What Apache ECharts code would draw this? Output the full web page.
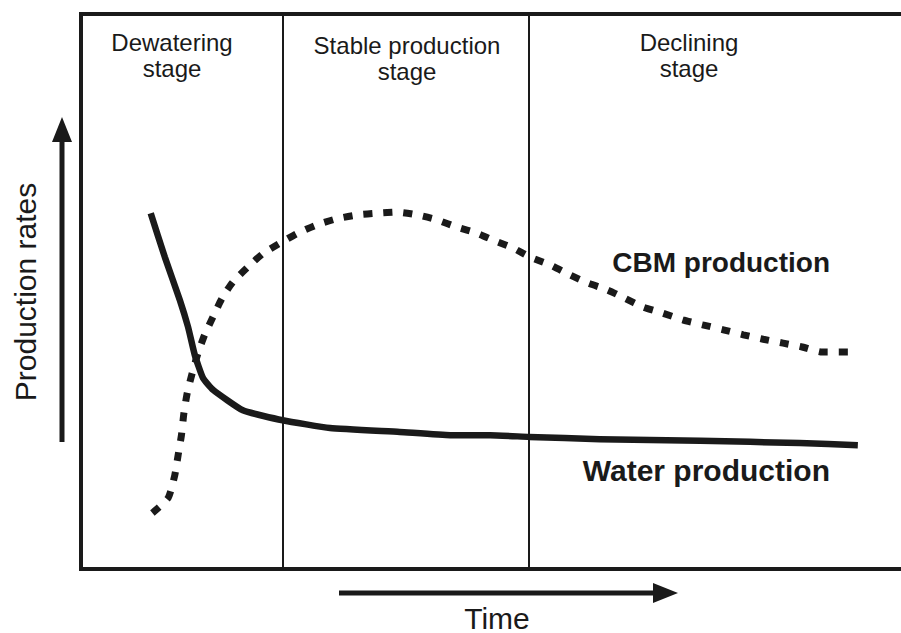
<!DOCTYPE html>
<html>
<head>
<meta charset="utf-8">
<style>
  html, body { margin: 0; padding: 0; background: #ffffff; }
  #chart { width: 901px; height: 633px; }
</style>
<script src="https://cdn.jsdelivr.net/npm/echarts@6/dist/echarts.min.js"></script>
</head>
<body>
<div id="chart"></div>
<script>
// Time axis in arbitrary units, production rate in arbitrary units (0-100)
const timeMax = 98.8;
const stageBoundaries = [24.3, 54.0];
const stageLabels = ['Dewatering\nstage', 'Stable production\nstage', 'Declining\nstage'];

const waterTime = [8.4, 10.1, 11.9, 12.9, 13.7, 14.7, 15.9, 19.5, 24.3, 30.0, 38.4, 44.5, 49.3, 54.0, 62.5, 74.6, 86.6, 93.6];
const waterRate = [64.1, 56.2, 48.5, 43.6, 38.6, 34.4, 32.3, 28.6, 26.8, 25.4, 24.7, 24.1, 24.1, 23.8, 23.4, 23.1, 22.7, 22.3];

const cbmTime = [8.6, 10.5, 11.3, 11.7, 12.1, 12.4, 12.8, 13.4, 14.1, 14.9, 15.9, 17.0, 18.3, 20.1, 21.9, 24.2, 26.1, 28.4, 30.8, 33.3, 35.7, 38.1, 40.5, 42.9, 45.3, 47.7, 49.9, 52.1, 54.1, 56.5, 58.9, 61.1, 63.4, 65.5, 67.7, 70.1, 72.5, 74.9, 77.4, 79.8, 82.2, 84.6, 86.9, 89.3, 92.4];
const cbmRate = [10.1, 12.8, 16.9, 20.5, 24.1, 28.1, 31.7, 35.3, 38.9, 42.2, 45.4, 48.8, 51.7, 54.4, 56.8, 58.9, 60.5, 62.0, 63.1, 63.8, 64.1, 64.3, 63.8, 62.9, 61.6, 60.5, 59.1, 57.8, 56.2, 54.8, 53.0, 51.5, 50.3, 48.8, 47.2, 46.1, 44.9, 44.0, 43.1, 42.2, 41.4, 40.7, 40.0, 39.1, 39.1];

const seriesNames = ['CBM production', 'Water production'];
const axisNames = ['Time', 'Production rates'];

const INK = '#1a1a1a';
const FONT = '"Liberation Sans", Arial, Helvetica, sans-serif';

const frameLine = { show: true, onZero: false, lineStyle: { color: INK, width: 4, cap: 'square' } };

const chart = echarts.init(document.getElementById('chart'), null, { renderer: 'svg' });

const option = {
  animation: false,
  backgroundColor: '#ffffff',
  grid: {
    show: false,
    left: 81, top: 14, right: 0, bottom: 64
  },
  xAxis: [
    { type: 'value', min: 0, max: timeMax, position: 'bottom', axisLine: frameLine, axisTick: { show: false }, axisLabel: { show: false }, splitLine: { show: false } },
    { type: 'value', min: 0, max: timeMax, position: 'top', axisLine: frameLine, axisTick: { show: false }, axisLabel: { show: false }, splitLine: { show: false } }
  ],
  yAxis: { type: 'value', min: 0, max: 100, position: 'left', axisLine: frameLine, axisTick: { show: false }, axisLabel: { show: false }, splitLine: { show: false } },
  series: [
    {
      name: seriesNames[0],
      type: 'line',
      data: cbmTime.map((t, i) => [t, cbmRate[i]]),
      showSymbol: false,
      symbol: 'none',
      smooth: 0.2,
      lineStyle: { color: INK, width: 7, type: [9, 11], cap: 'butt' },
      z: 3,
      markLine: {
        silent: true,
        symbol: ['none', 'none'],
        label: { show: false },
        lineStyle: { color: INK, width: 2, type: 'solid' },
        data: stageBoundaries.map(b => ({ xAxis: b }))
      }
    },
    {
      name: seriesNames[1],
      type: 'line',
      data: waterTime.map((t, i) => [t, waterRate[i]]),
      showSymbol: false,
      symbol: 'none',
      smooth: 0.15,
      lineStyle: { color: INK, width: 6.5, cap: 'butt', join: 'round' },
      z: 4
    }
  ],
  graphic: [
    // stage labels
    { type: 'text', x: 172, y: 30, style: { text: stageLabels[0], font: '24px ' + FONT, fill: INK, align: 'center', verticalAlign: 'top', lineHeight: 25.5 } },
    { type: 'text', x: 407, y: 33, style: { text: stageLabels[1], font: '24px ' + FONT, fill: INK, align: 'center', verticalAlign: 'top', lineHeight: 25.5 } },
    { type: 'text', x: 689, y: 30, style: { text: stageLabels[2], font: '24px ' + FONT, fill: INK, align: 'center', verticalAlign: 'top', lineHeight: 25.5 } },
    // series labels
    { type: 'text', x: 830, y: 262, style: { text: seriesNames[0], font: 'bold 28px ' + FONT, fill: INK, align: 'right', verticalAlign: 'middle' } },
    { type: 'text', x: 830, y: 470, style: { text: seriesNames[1], font: 'bold 30px ' + FONT, fill: INK, align: 'right', verticalAlign: 'middle' } },
    // axis names
    { type: 'text', x: 497, y: 618, style: { text: axisNames[0], font: '30px ' + FONT, fill: INK, align: 'center', verticalAlign: 'middle' } },
    { type: 'text', x: 25, y: 292, rotation: Math.PI / 2, style: { text: axisNames[1], font: '30px ' + FONT, fill: INK, align: 'center', verticalAlign: 'middle' } },
    // vertical arrow
    { type: 'line', shape: { x1: 62, y1: 442, x2: 62, y2: 138 }, style: { stroke: INK, lineWidth: 5 } },
    { type: 'polygon', shape: { points: [[52, 142], [72, 142], [62, 117]] }, style: { fill: INK } },
    // horizontal arrow
    { type: 'line', shape: { x1: 339, y1: 593, x2: 657, y2: 593 }, style: { stroke: INK, lineWidth: 5 } },
    { type: 'polygon', shape: { points: [[653, 583], [653, 603], [678, 593]] }, style: { fill: INK } }
  ]
};

chart.setOption(option);
</script>
</body>
</html>
